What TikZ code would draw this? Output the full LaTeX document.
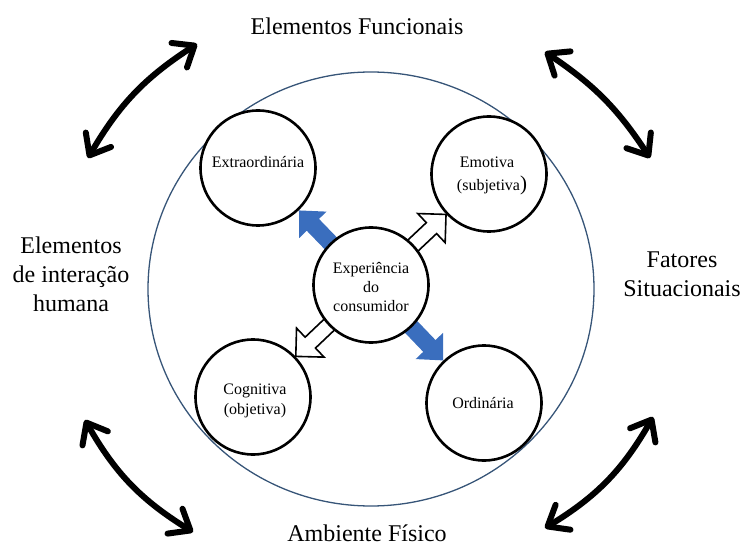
\documentclass[tikz,border=0pt]{standalone}
\usepackage{fontspec}
\setmainfont{Liberation Serif}
\usetikzlibrary{arrows.meta,calc,bending}
\pgfdeclarelayer{back}
\pgfsetlayers{back,main}
\newcommand\blockarrow[5]{% style, from, to, half shaft, half head
  \coordinate (T) at ($(#3)!59pt!(#2)$);
  \coordinate (H) at ($(T)!20pt!(#2)$);
  \path[#1] ($(#2)!#4!90:(T)$) -- ($(H)!#4!90:(T)$) -- ($(H)!#5!90:(T)$) -- (T)
    -- ($(H)!#5!-90:(T)$) -- ($(H)!#4!-90:(T)$) -- ($(#2)!#4!-90:(T)$) -- cycle;
}
\begin{document}
\begin{tikzpicture}[x=1pt,y=-1pt,
  bigtxt/.style={font=\fontsize{24}{29}\selectfont, anchor=base, inner sep=0pt},
  smalltxt/.style={font=\fontsize{16}{19}\selectfont, anchor=base, inner sep=0pt},
  ring/.style={circle, draw=black, line width=2.6pt, fill=white, minimum size=115pt, inner sep=0pt},
  outerring/.style={draw={rgb,255:red,55;green,85;blue,120}, line width=1.3pt},
  dbl/.style={line width=6pt, {Straight Barb[length=18pt,width=29pt,round]}-{Straight Barb[length=18pt,width=29pt,round]}},
  bluearrow/.style={fill={rgb,255:red,58;green,110;blue,190}, draw=none},
  whitearrow/.style={fill=white, draw=black, line width=1.6pt, line join=miter},
]
\useasboundingbox (0,0) rectangle (744,545);

% outer circle
\draw[outerring] (371,289) ellipse [x radius=223pt, y radius=217pt];

% circles
\node[ring] (ext) at (258,168) {};
\node[ring] (emo) at (489,174) {};
\node[ring] (cog) at (253,397) {};
\node[ring] (ord) at (484,403) {};
\node[ring] (exp) at (371,285) {};

% block arrows
\begin{pgfonlayer}{back}
  \blockarrow{bluearrow}{exp}{ext}{8.5pt}{19pt}
  \blockarrow{bluearrow}{exp}{ord}{8.5pt}{19pt}
  \blockarrow{whitearrow}{exp}{emo}{7.5pt}{20pt}
  \blockarrow{whitearrow}{exp}{cog}{7.5pt}{20pt}
\end{pgfonlayer}

% texts inside circles
\node[smalltxt] (t-ext) at (258,168) {Extraordinária};
\node[smalltxt] (t-emo1) at (487,168) {Emotiva};
\node[smalltxt] (t-emo2) at (492,191) {(subjetiva{\fontsize{21}{21}\selectfont)}};
\node[smalltxt] (t-exp1) at (371,273) {Experiência};
\node[smalltxt] (t-exp2) at (371,293) {do};
\node[smalltxt] (t-exp3) at (371,312) {consumidor};
\node[smalltxt] (t-cog1) at (255,394) {Cognitiva};
\node[smalltxt] (t-cog2) at (255,414) {(objetiva)};
\node[smalltxt] (t-ord) at (483,408) {Ordinária};

% outer labels
\node[bigtxt] (l-top) at (357,35) {Elementos Funcionais};
\node[bigtxt] (l-left1) at (71,254) {Elementos};
\node[bigtxt] (l-left2) at (71,283) {de interação};
\node[bigtxt] (l-left3) at (71,312) {humana};
\node[bigtxt] (l-right1) at (682,268) {Fatores};
\node[bigtxt] (l-right2) at (682,297) {Situacionais};
\node[bigtxt] (l-bottom) at (367,541) {Ambiente Físico};

% curved double arrows
\coordinate (a-tl1) at (88,158);
\coordinate (a-tl2) at (197,44);
\coordinate (a-tr1) at (545,52);
\coordinate (a-tr2) at (650,158);
\coordinate (a-bl1) at (85,420);
\coordinate (a-bl2) at (193,532);
\coordinate (a-br1) at (653,417);
\coordinate (a-br2) at (545,528);
\draw[dbl] (a-tl1) to[bend left=14] (a-tl2);
\draw[dbl] (a-tr1) to[bend left=12] (a-tr2);
\draw[dbl] (a-bl1) to[bend right=15] (a-bl2);
\draw[dbl] (a-br1) to[bend left=15] (a-br2);
\end{tikzpicture}
\end{document}
